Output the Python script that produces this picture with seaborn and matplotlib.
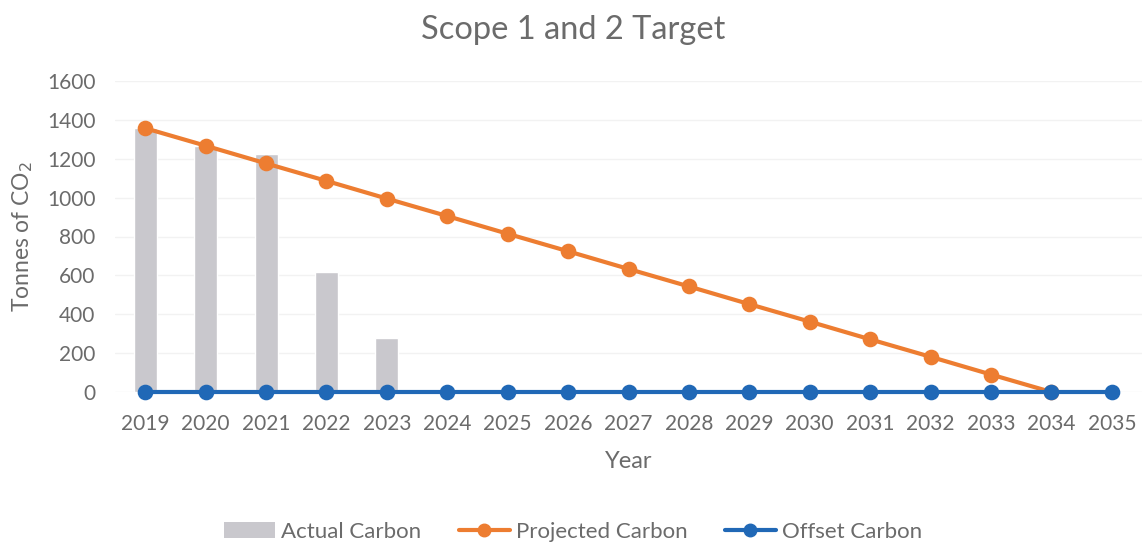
import matplotlib
matplotlib.use("Agg")
import matplotlib.pyplot as plt
import seaborn as sns
import pandas as pd
import numpy as np
from matplotlib.lines import Line2D
from matplotlib.patches import Patch

years = [str(y) for y in range(2019, 2036)]
actual = [1357, 1268, 1222, 617, 280, np.nan, np.nan, np.nan, np.nan, np.nan,
          np.nan, np.nan, np.nan, np.nan, np.nan, np.nan, np.nan]
projected = [1357, 1267, 1176, 1086, 995, 905, 814, 724, 633, 543, 452, 362,
             271, 181, 90, 0, np.nan]
offset = [0] * 17
y_ticks = [0, 200, 400, 600, 800, 1000, 1200, 1400, 1600]

sns.set_theme(style="white")
plt.rcParams['font.family'] = ['Lato', 'DejaVu Sans']

text_col = "#6b6b6b"
orange = "#ED7D31"
blue = "#2068B6"
gray = "#C9C8CD"

df = pd.DataFrame({"Year": years, "Actual": actual, "Projected": projected, "Offset": offset})

fig = plt.figure(figsize=(11.46, 5.44), dpi=100)
ax = fig.add_axes([115/1146, 1-392/544, (1142-115)/1146, (392-81)/544])

ax.set_ylim(0, 1600)
ax.set_yticks(y_ticks)
ax.grid(axis="y", color="#f2f2f2", linewidth=1)
ax.set_axisbelow(True)

sns.barplot(data=df, x="Year", y="Actual", order=years, color=gray, width=0.38,
            saturation=1, ax=ax, zorder=2)
sns.pointplot(data=df, x="Year", y="Projected", order=years, color=orange,
              markers="o", markersize=9, linewidth=3, errorbar=None, ax=ax)
sns.pointplot(data=df, x="Year", y="Offset", order=years, color=blue,
              markers="o", markersize=9, linewidth=3, errorbar=None, ax=ax)
for c in ax.collections + ax.lines:
    c.set_clip_on(False)

ax.set_xlim(-0.5, len(years) - 0.5)
ax.set_ylim(0, 1600)
for s in ax.spines.values():
    s.set_visible(False)
ax.tick_params(axis="both", length=0, labelsize=15, labelcolor=text_col)
ax.tick_params(axis="x", pad=16)
ax.tick_params(axis="y", pad=14)
ax.set_xlabel("Year", fontsize=17, color=text_col, labelpad=12)
ax.set_ylabel("Tonnes of CO$_2$", fontsize=16.5, color=text_col, labelpad=9)
fig.text(0.5, 1 - 30/544, "Scope 1 and 2 Target", fontsize=23.5, color=text_col,
         ha="center", va="center")

handles = [
    Patch(facecolor=gray, edgecolor="none"),
    Line2D([0], [0], color=orange, lw=3, marker="o", markersize=9),
    Line2D([0], [0], color=blue, lw=3, marker="o", markersize=9),
]
fig.legend(handles, ["Actual Carbon", "Projected Carbon", "Offset Carbon"],
           loc="center", bbox_to_anchor=(0.5, 1-532/544), ncol=3, frameon=False,
           fontsize=16, labelcolor=text_col, handlelength=2.3, columnspacing=1.7,
           handletextpad=0.25)

fig.savefig("out.png", dpi=100)
